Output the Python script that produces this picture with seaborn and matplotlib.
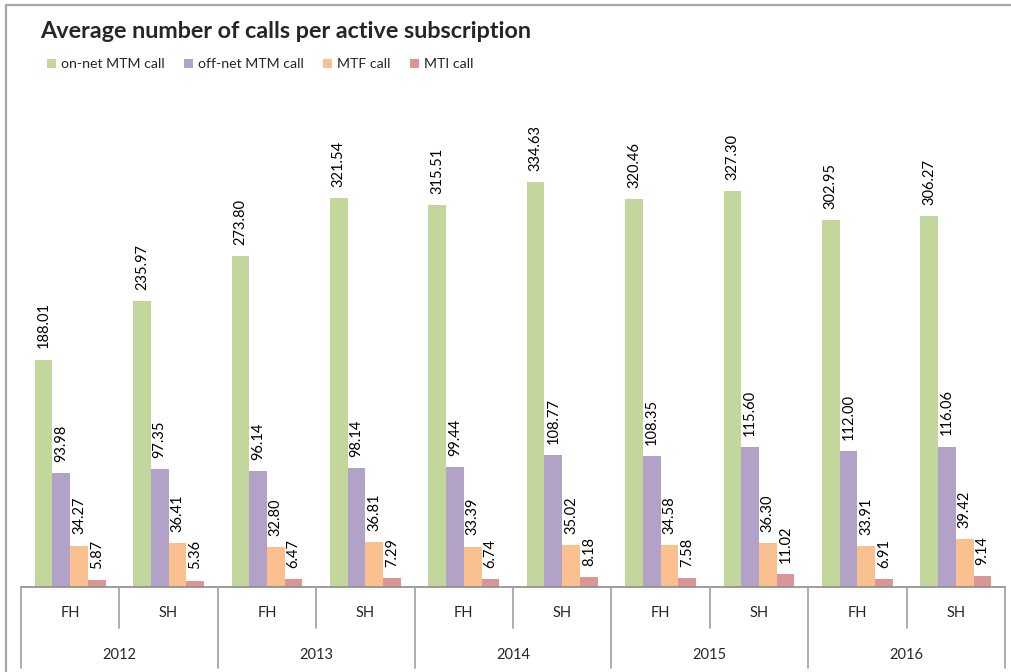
import matplotlib
matplotlib.use("Agg")
import matplotlib.pyplot as plt
from matplotlib.lines import Line2D
from matplotlib.transforms import blended_transform_factory
import pandas as pd
import seaborn as sns

years = ["2012", "2013", "2014", "2015", "2016"]
halves = ["FH", "SH"]
series = ["on-net MTM call", "off-net MTM call", "MTF call", "MTI call"]

on_net = [188.01, 235.97, 273.80, 321.54, 315.51, 334.63, 320.46, 327.30, 302.95, 306.27]
off_net = [93.98, 97.35, 96.14, 98.14, 99.44, 108.77, 108.35, 115.60, 112.00, 116.06]
mtf = [34.27, 36.41, 32.80, 36.81, 33.39, 35.02, 34.58, 36.30, 33.91, 39.42]
mti = [5.87, 5.36, 6.47, 7.29, 6.74, 8.18, 7.58, 11.02, 6.91, 9.14]

colors = ["#C3D69B", "#B3A2C7", "#FAC090", "#D99694"]

periods = [f"{y} {h}" for y in years for h in halves]
rows = []
for name, vals in zip(series, [on_net, off_net, mtf, mti]):
    for p, v in zip(periods, vals):
        rows.append({"period": p, "series": name, "value": v})
df = pd.DataFrame(rows)

sns.set_theme(style="white")
plt.rcParams["font.family"] = ["Lato", "DejaVu Sans"]

fig = plt.figure(figsize=(10.12, 6.72), dpi=100)
ax = fig.add_axes([21 / 1012, 85 / 672, 984 / 1012, 484 / 672])

sns.barplot(data=df, x="period", y="value", hue="series", order=periods,
            hue_order=series, palette=colors, width=0.72, gap=0,
            saturation=1, edgecolor="none", ax=ax, legend=True)

ax.set_ylim(0, 400)
ax.set_xlim(-0.5, len(periods) - 0.5)
for c in ax.containers:
    ax.bar_label(c, fmt="%.2f", rotation=90, padding=8, fontsize=10.5,
                 color="#000000")

for s in ["top", "right", "left"]:
    ax.spines[s].set_visible(False)
ax.spines["bottom"].set_color("#8c8c8c")
ax.spines["bottom"].set_linewidth(1.2)
ax.set_yticks([])
ax.set_xticks([])
ax.set_xlabel("")
ax.set_ylabel("")

# Two-level category axis below the bars
trans = blended_transform_factory(ax.transData, fig.transFigure)
y0 = 85 / 672
y_mid = (672 - 628) / 672
y_low = (672 - 668) / 672
line_kw = dict(color="#a0a0a0", linewidth=1.2, transform=trans, clip_on=False)
for i in range(len(periods) + 1):
    x = i - 0.5
    bottom = y_low if i % 2 == 0 else y_mid
    fig.add_artist(Line2D([x, x], [y0, bottom], **line_kw))
for i, p in enumerate(periods):
    fig.text(i, (672 - 613) / 672, p.split()[1], transform=trans,
             ha="center", va="center", fontsize=10.5)
for j, y in enumerate(years):
    fig.text(2 * j + 0.5, (672 - 655) / 672, y, transform=trans,
             ha="center", va="center", fontsize=10.5)

# Chart frame
frame_kw = dict(color="#a6a6a6", linewidth=1.6, transform=fig.transFigure)
fig.add_artist(Line2D([6 / 1012, 6 / 1012], [0, 1 - 4.5 / 672], **frame_kw))
fig.add_artist(Line2D([6 / 1012, 1], [1 - 4.5 / 672, 1 - 4.5 / 672], **frame_kw))

fig.text(40 / 1012, 1 - 32 / 672, "Average number of calls per active subscription",
         ha="left", va="center", fontsize=16.8, fontweight="bold")

leg = ax.legend(loc="upper left", bbox_to_anchor=(47 / 1012, 1 - 58.5 / 672),
                bbox_transform=fig.transFigure, ncol=4, frameon=False,
                fontsize=10.2, handlelength=0.65, handleheight=0.65,
                handletextpad=0.35, columnspacing=1.35, borderaxespad=0,
                borderpad=0)

fig.savefig("out.png", dpi=100)
